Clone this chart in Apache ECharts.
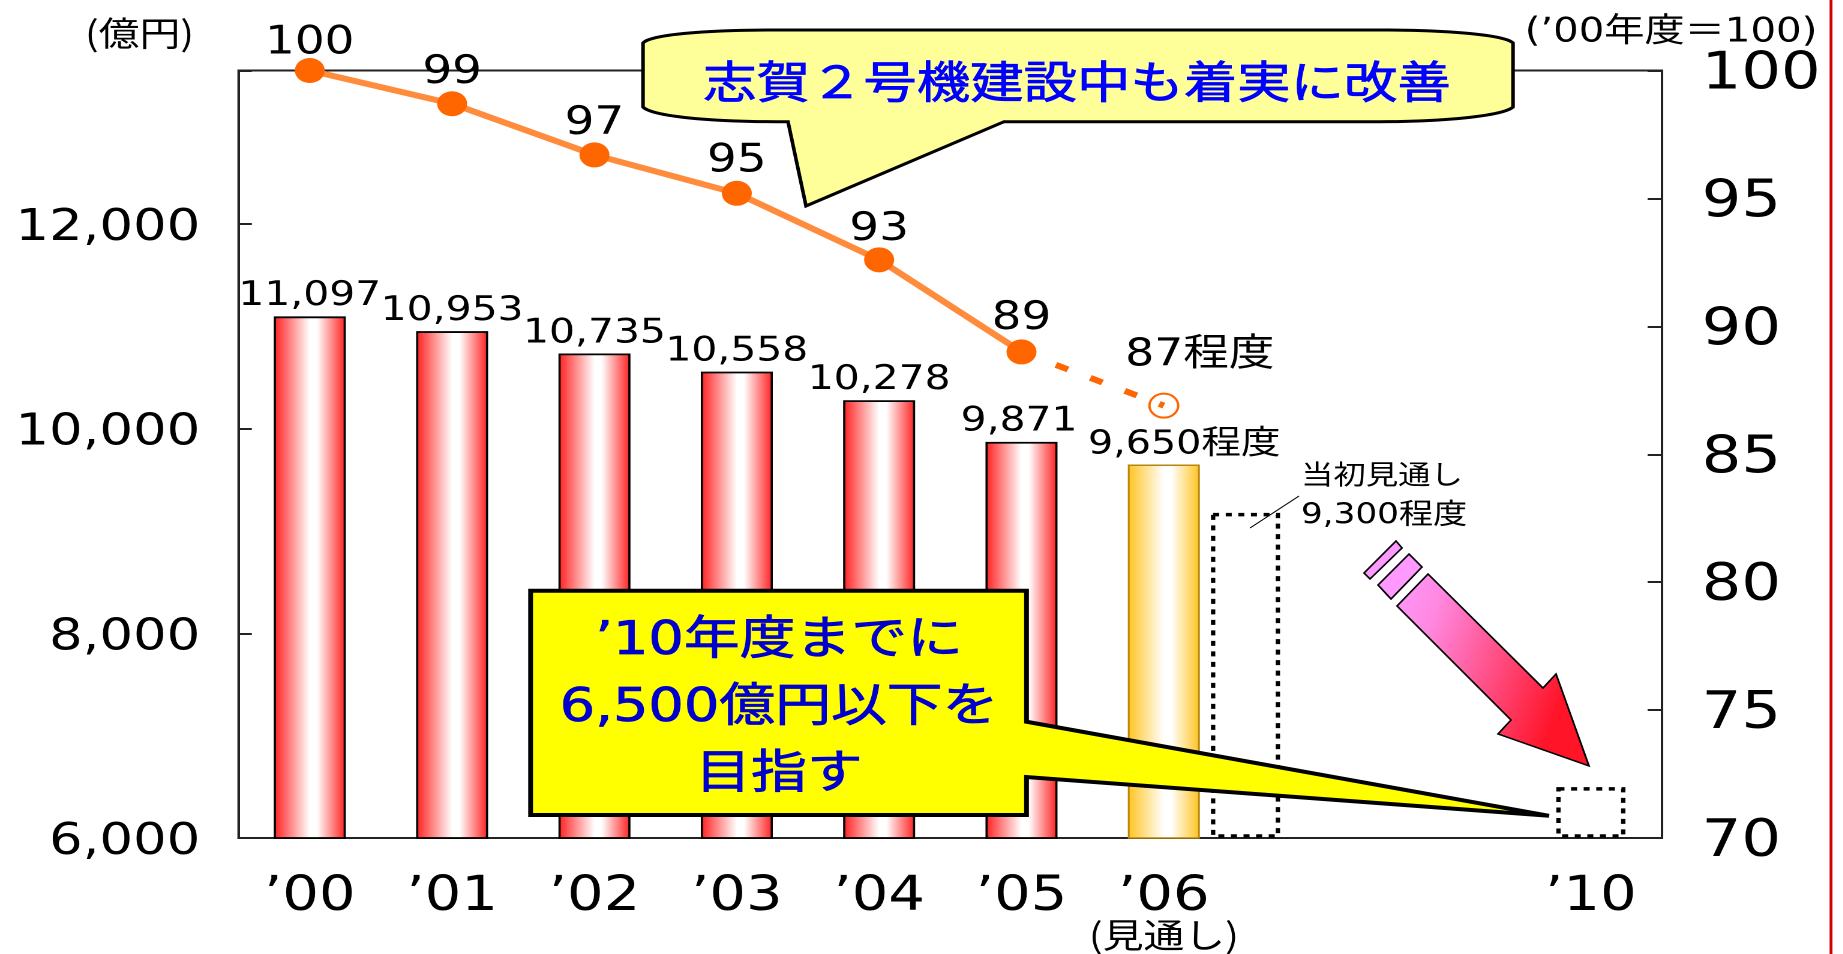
<!DOCTYPE html>
<html>
<head>
<meta charset="utf-8">
<script src="https://cdn.jsdelivr.net/npm/echarts@6/dist/echarts.min.js"></script>
<style>
html,body{margin:0;padding:0;background:#fff;overflow:hidden;width:1843px;height:954px}
#main{width:1536px;height:954px;transform:scaleX(1.2);transform-origin:0 0}
</style>
</head>
<body>
<div id="main"></div>
<script>
const categories = ["’00","’01","’02","’03","’04","’05","’06","","","’10"];
const costValues = [11097,10953,10735,10558,10278,9871,9650,null,null,null];
const costLabels = ["11,097","10,953","10,735","10,558","10,278","9,871","9,650程度"];
const indexValues = [100,98.7,96.7,95.2,92.6,89.0,null,null,null,null];
const indexLabels = ["100","99","97","95","93","89"];
const indexForecast = [null,null,null,null,null,89.0,86.9,null,null,null];
const forecastLabel = "87程度";
// dotted outlines: [x position on the category scale, top value, width in category bands]
const dottedBoxes = [[6.574,9160,0.455],[9,6480,0.455]];
const leftMin = 6000, leftMax = 13500, leftStep = 2000;
const rightMin = 70, rightMax = 100, rightStep = 5;

const SX = 1.2;
const FONT = '"DejaVu Sans","Noto Sans CJK JP",sans-serif';
const CJK = '"Noto Sans CJK JP","DejaVu Sans",sans-serif';
const X = v => v / SX;
const P = pts => pts.map(p => [p[0] / SX, p[1]]);
const indexLabelShift = [7,3,3,2,4,1];
function bez(p0, c1, c2, p1) {
  const out = [];
  for (let i = 0; i <= 24; i++) {
    const t = i / 24, u = 1 - t;
    out.push([
      u*u*u*p0[0] + 3*u*u*t*c1[0] + 3*u*t*t*c2[0] + t*t*t*p1[0],
      u*u*u*p0[1] + 3*u*u*t*c1[1] + 3*u*t*t*c2[1] + t*t*t*p1[1]
    ]);
  }
  return out;
}
const hGrad = (edge, mid) => ({
  type:'linear', x:0, y:0, x2:1, y2:0,
  colorStops:[{offset:0,color:edge},{offset:0.5,color:mid},{offset:0.6,color:mid},{offset:1,color:edge}]
});

const bubble = [].concat(
  bez([643,43],[650,35],[700,30],[776,30]),
  bez([1380,30],[1450,30],[1505,35],[1513,43]),
  bez([1513,107],[1505,115],[1450,121.7],[1380,121.7]),
  [[1004,121.7],[806,206],[788,121.7]],
  bez([776,121.7],[700,121.7],[650,115],[643,107])
);

const graphicEls = [
  {type:'polygon',z:60,shape:{points:P(bubble)},style:{fill:'#FFFF99',stroke:'#000',lineWidth:3,lineJoin:'miter'}},
  {type:'text',z:61,x:X(1077),y:81,style:{text:'志賀２号機建設中も着実に改善',fontFamily:CJK,fontSize:44.5,fill:'#0000FF',stroke:'#0000FF',lineWidth:0.8,align:'center',verticalAlign:'middle'}},
  {type:'polygon',z:60,shape:{points:P([[530.6,590.7],[1026.5,590.7],[1026.5,721.7],[1549,815.8],[1026.5,777],[1026.5,815],[530.6,815]])},
    style:{fill:'#FFFF00',stroke:'#000',lineWidth:4,lineJoin:'miter'}},
  {type:'text',z:61,x:X(779),y:709,style:{text:'’10年度までに\n6,500億円以下を\n目指す',fontFamily:FONT,fontSize:46.5,lineHeight:67,fill:'#0000CC',stroke:'#0000CC',lineWidth:0.8,align:'center',verticalAlign:'middle'}},
  {type:'text',z:61,x:X(139.5),y:33,style:{text:'(億円)',fontFamily:CJK,fontSize:34,fill:'#000',align:'center',verticalAlign:'middle'}},
  {type:'text',z:61,x:X(1671),y:33,style:{text:'(’00年度＝100)',fontFamily:FONT,fontSize:33.5,fill:'#000',align:'center',verticalAlign:'middle'}},
  {type:'text',z:61,x:X(1301),y:474,style:{text:'当初見通し',fontFamily:CJK,fontSize:27,fill:'#000',align:'left',verticalAlign:'middle'}},
  {type:'text',z:61,x:X(1301),y:516,style:{text:'9,300程度',fontFamily:FONT,fontSize:28.5,fill:'#000',align:'left',verticalAlign:'middle'}},
  {type:'line',z:61,shape:{x1:X(1299),y1:496,x2:X(1250),y2:528},style:{stroke:'#000',lineWidth:1}},
  {type:'polygon',z:60,shape:{points:P([[1396,541],[1402,548],[1370,579],[1364,573]])},style:{fill:'#FF99FF',stroke:'#000',lineWidth:1.5}},
  {type:'polygon',z:60,shape:{points:P([[1409,554],[1422,567],[1391,599],[1378,585]])},style:{fill:'#FF99FF',stroke:'#000',lineWidth:1.5}},
  {type:'polygon',z:60,shape:{points:P([[1428,574],[1543,688],[1556,674],[1589,766],[1498,734],[1511,720],[1397,606]])},
    style:{fill:{type:'linear',x:0,y:0,x2:1,y2:0.25,colorStops:[{offset:0,color:'#FF99FF'},{offset:0.25,color:'#FF88E0'},{offset:1,color:'#FF1428'}]},stroke:'#000',lineWidth:1.5}},
  {type:'line',z:61,shape:{x1:X(1831),y1:0,x2:X(1831),y2:954},style:{stroke:'#D00000',lineWidth:2.4}}
];

const chart = echarts.init(document.getElementById('main'), null, {devicePixelRatio:2, renderer:'canvas'});
chart.setOption({
  animation:false,
  backgroundColor:'#fff',
  grid:{left:X(238.6),right:1536-X(1662),top:70.5,bottom:954-838,show:true,borderColor:'#222',borderWidth:2,backgroundColor:'transparent'},
  xAxis:[
    {type:'category',data:categories,
      axisLine:{onZero:false,lineStyle:{color:'#222',width:2}},axisTick:{show:false},
      axisLabel:{interval:0,margin:40,fontFamily:FONT,fontSize:48,lineHeight:39,color:'#000',
        formatter:v=>v==='’06'?v+'\n{sub|(見通し)}':v,
        rich:{sub:{fontFamily:CJK,fontSize:34,lineHeight:36,color:'#000'}}}},
    {type:'value',min:-0.5,max:9.5,show:false}
  ],
  yAxis:[
    {type:'value',min:leftMin,max:leftMax,interval:leftStep,splitLine:{show:false},
      axisLine:{show:true,onZero:false,lineStyle:{color:'#222',width:2}},
      axisTick:{show:true,inside:true,length:11,lineStyle:{color:'#222',width:2}},
      axisLabel:{margin:32,verticalAlign:'top',lineHeight:9,fontFamily:FONT,fontSize:44,color:'#000',
        formatter:v=>v===leftMax?'':v.toLocaleString('en-US')}},
    {type:'value',min:rightMin,max:rightMax,interval:rightStep,position:'right',splitLine:{show:false},
      axisLine:{show:true,onZero:false,lineStyle:{color:'#222',width:2}},
      axisTick:{show:true,inside:true,length:12,lineStyle:{color:'#222',width:2}},
      axisLabel:{margin:33,verticalAlign:'top',lineHeight:9,fontFamily:FONT,fontSize:52,color:'#000'}}
  ],
  series:[
    {type:'bar',xAxisIndex:0,yAxisIndex:0,barWidth:60,z:2,
      data:costValues.map((v,i)=>({
        value:v,
        itemStyle:i===6
          ?{color:hGrad('#FFC420','#FFFFFF'),borderColor:'#B8860B',borderWidth:1.5}
          :{color:hGrad('#FF1E1E','#FFFFFF'),borderColor:'#000',borderWidth:1.8},
        label:i===6?{offset:[17,0],fontSize:33}:(i===5?{offset:[-2,0]}:undefined)
      })),
      label:{show:true,position:'top',distance:3,fontFamily:FONT,fontSize:34,color:'#000',
        formatter:p=>costLabels[p.dataIndex]||''}},
    {type:'custom',xAxisIndex:1,yAxisIndex:0,z:3,silent:true,
      encode:{x:0,y:1},
      data:dottedBoxes,
      renderItem:(params,api)=>{
        const cx=api.value(0), top=api.value(1), w=api.value(2);
        const a=api.coord([cx-w/2,top]), b=api.coord([cx+w/2,leftMin]);
        return {type:'rect',shape:{x:a[0],y:a[1],width:b[0]-a[0],height:b[1]-a[1]-2},
          style:{fill:'none',stroke:'#000',lineWidth:3.6,lineDash:[5,5.5]}};
      }},
    {type:'line',xAxisIndex:0,yAxisIndex:1,z:5,connectNulls:false,
      symbol:'circle',symbolSize:25,
      data:indexValues.map((v,i)=>({value:v,label:{offset:[0,indexLabelShift[i]||0]}})),
      lineStyle:{color:'#FF8C3C',width:6},
      itemStyle:{color:'#FF6600'},
      label:{show:true,position:'top',distance:2,fontFamily:FONT,fontSize:39,color:'#000',
        formatter:p=>indexLabels[p.dataIndex]||''}},
    {type:'line',xAxisIndex:0,yAxisIndex:1,z:4,
      symbol:'circle',symbolSize:24,
      data:indexForecast.map((v,i)=>i===5?{value:v,symbol:'none'}:v),
      lineStyle:{color:'#FF6600',width:6,type:[11,20.5]},
      itemStyle:{color:'rgba(255,255,255,0)',borderColor:'#FF6600',borderWidth:2},
      label:{show:true,position:'top',distance:18,offset:[30,0],fontFamily:FONT,fontSize:38,color:'#000',
        formatter:p=>p.dataIndex===6?forecastLabel:''}}
  ],
  graphic:graphicEls
});
</script>
</body>
</html>
